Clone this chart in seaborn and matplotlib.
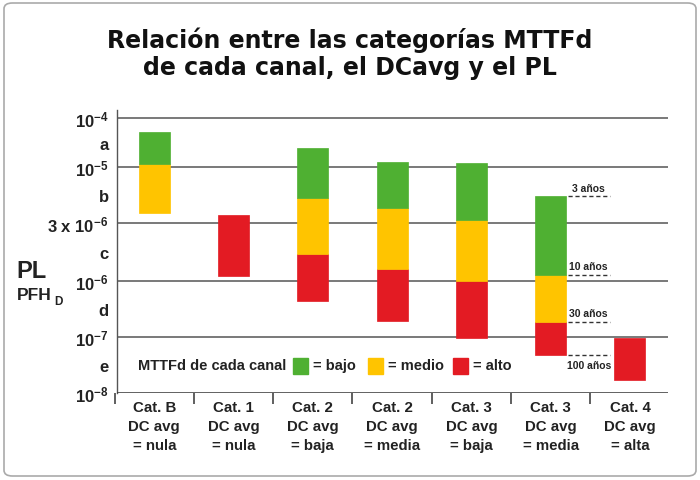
import numpy as np
import matplotlib.pyplot as plt
import seaborn as sns
from matplotlib.patches import Rectangle, FancyBboxPatch

# Categories (x axis)
categories = ["Cat. B\nDC avg\n= nula", "Cat. 1\nDC avg\n= nula", "Cat. 2\nDC avg\n= baja",
              "Cat. 2\nDC avg\n= media", "Cat. 3\nDC avg\n= baja", "Cat. 3\nDC avg\n= media",
              "Cat. 4\nDC avg\n= alta"]

# PL scale expressed in band units (10^-8 = 0 ... 10^-4 = top)
y_tick_pos = [0, 0.5, 1, 1.5, 2, 2.52, 3.03, 3.53, 4.03, 4.47, 4.9]
y_tick_labels = ["10$^{-8}$", "e", "10$^{-7}$", "d", "10$^{-6}$", "c",
                 "3 x 10$^{-6}$", "b", "10$^{-5}$", "a", "10$^{-4}$"]
grid_levels = [1, 2, 3.03, 4.03, 4.9]

# MTTFd segments (bottom, top) per category, nan = no segment
bajo_bottom = [4.09, np.nan, 3.48, 3.30, 3.08, 2.11, np.nan]
bajo_top = [4.66, np.nan, 4.37, 4.13, 4.10, 3.51, np.nan]
medio_bottom = [3.21, np.nan, 2.48, 2.22, 2.00, 1.27, np.nan]
medio_top = [4.09, np.nan, 3.48, 3.30, 3.08, 2.11, np.nan]
alto_bottom = [np.nan, 2.09, 1.65, 1.28, 0.98, 0.67, 0.24]
alto_top = [np.nan, 3.18, 2.48, 2.22, 2.00, 1.27, 0.99]

# years annotations for Cat. 3 / DC media
year_labels = ["3 años", "10 años", "30 años", "100 años"]

green = "#4fb032"
yellow = "#ffc400"
red = "#e31b23"

sns.set_style("white")
plt.rcParams['font.family'] = ['Liberation Sans', 'DejaVu Sans']
plt.rcParams['mathtext.fontset'] = 'custom'
plt.rcParams['mathtext.rm'] = 'Liberation Sans:bold'
plt.rcParams['mathtext.default'] = 'rm'
plt.rcParams['axes.unicode_minus'] = False

fig = plt.figure(figsize=(7, 4.81), dpi=100)
ax = fig.add_axes([117 / 700, 87 / 481, 551 / 700, 283 / 481])

x = np.arange(len(categories))
for lo, hi, col in [(alto_bottom, alto_top, red), (medio_bottom, medio_top, yellow),
                    (bajo_bottom, bajo_top, green)]:
    lo = np.array(lo)
    hi = np.array(hi)
    m = ~np.isnan(lo)
    ax.bar(x[m], hi[m] - lo[m], bottom=lo[m], width=0.39, color=col,
           edgecolor=col, linewidth=0.5, zorder=3)

for lvl in grid_levels:
    ax.axhline(lvl, color="#555555", lw=1.1, zorder=1)
ax.axhline(0, color="#333333", lw=1.8, zorder=4)

ax.set_xlim(-0.47, 6.48)
ax.set_ylim(0, 5.05)
ax.set_xticks([])
ax.set_yticks(y_tick_pos)
ax.set_yticklabels(y_tick_labels, fontsize=12, fontweight='bold', color="#222222")
ax.tick_params(axis='y', length=0, pad=6)
for s in ["top", "right", "bottom"]:
    ax.spines[s].set_visible(False)
ax.spines["left"].set_color("#555555")
ax.spines["left"].set_linewidth(1)

# category separators and labels
ax.vlines(np.arange(-0.5, len(categories) - 0.5), -0.2, 0, color="#444444", lw=1.2, clip_on=False)
for i, lab in enumerate(categories):
    ax.text(i, -0.13, lab, ha='center', va='top', fontsize=10.8, fontweight='bold',
            color="#222222", linespacing=1.42, clip_on=False)

# legend row
ax.text(-0.21, 0.5, "MTTFd de cada canal", ha='left', va='center', fontsize=10.5,
        fontweight='bold', color="#222222", zorder=5)
for x0, col, txt in [(1.75, green, "= bajo"), (2.70, yellow, "= medio"), (3.77, red, "= alto")]:
    ax.add_patch(Rectangle((x0, 0.34), 0.19, 0.29, color=col, zorder=5))
    ax.text(x0 + 0.25, 0.5, txt, ha='left', va='center', fontsize=10.5,
            fontweight='bold', color="#222222", zorder=5)

# years annotations
year_levels = [bajo_top[5], bajo_bottom[5], medio_bottom[5], alto_bottom[5]]
for j, (lvl, txt) in enumerate(zip(year_levels, year_labels)):
    ax.plot([5.22, 5.75], [lvl, lvl], color="#333333", lw=1, ls=(0, (3, 2)), zorder=5)
    dy = 0.15 if j < 3 else -0.17
    ax.text(5.48, lvl + dy, txt, ha='center', va='center', fontsize=7.5,
            fontweight='bold', color="#222222", zorder=5)

# axis label
fig.text(16 / 700, 1 - 272 / 481, "PL", ha='left', va='center', fontsize=17,
         fontweight='bold', color="#222222")
fig.text(17 / 700, 1 - 296 / 481, "PFH", ha='left', va='center', fontsize=12.5,
         fontweight='bold', color="#222222")
fig.text(54 / 700, 1 - 302 / 481, "D", ha='left', va='center', fontsize=8.5,
         fontweight='bold', color="#222222")

# title
fig.text(0.5, 1 - 54 / 481, "Relación entre las categorías MTTFd\nde cada canal, el DCavg y el PL",
         ha='center', va='center', fontsize=17, fontweight='bold', family='DejaVu Sans',
         linespacing=1.15, color="#111111")

# rounded frame
fig.patches.append(FancyBboxPatch((4 / 700, 4 / 481), 692 / 700, 473 / 481,
                                  boxstyle="round,pad=0,rounding_size=0.012",
                                  transform=fig.transFigure, fill=False,
                                  ec="#aaaaaa", lw=1.2))

fig.savefig("out.png", dpi=100)
